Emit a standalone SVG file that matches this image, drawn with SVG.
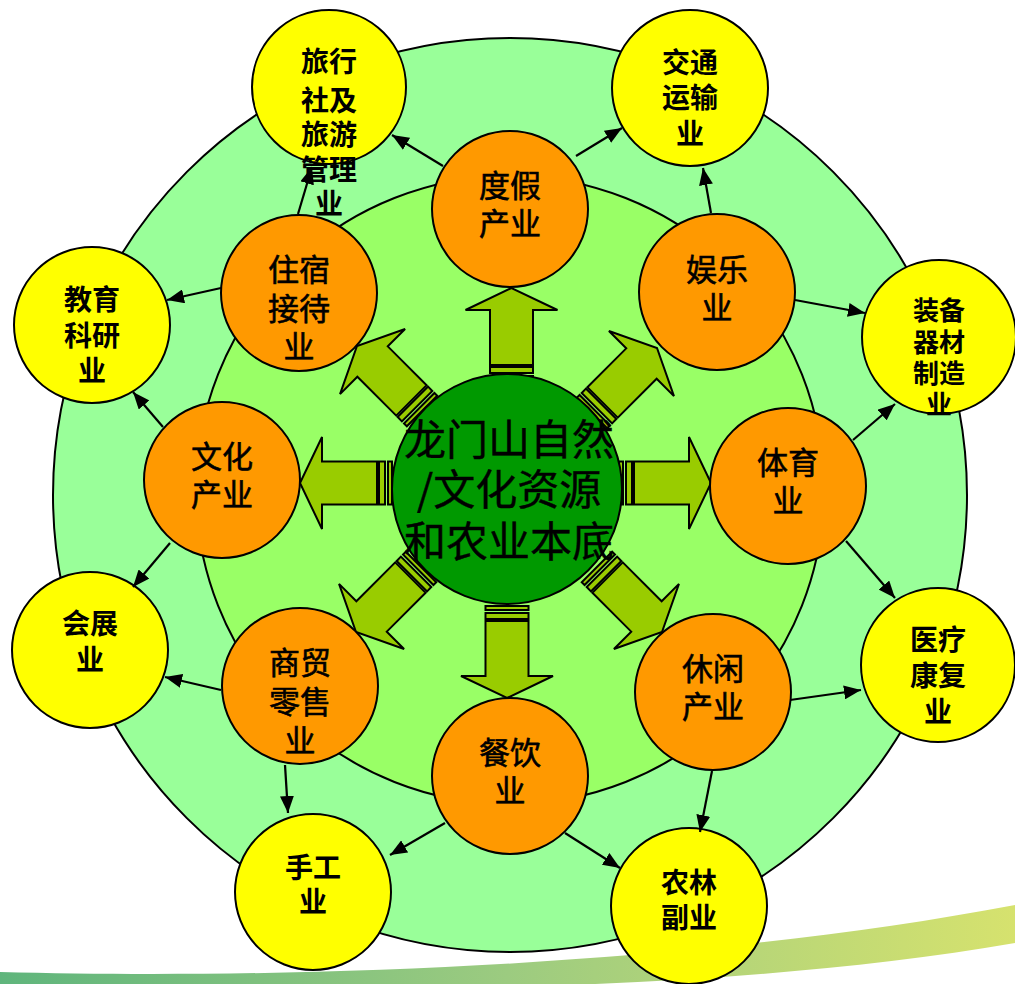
<svg xmlns="http://www.w3.org/2000/svg" width="1015" height="984" viewBox="0 0 1015 984">
<defs>
<style>
.ring{stroke:#000;stroke-width:2}
.org{fill:#FF9900;stroke:#000;stroke-width:2}
.yel{fill:#FFFF00;stroke:#000;stroke-width:2}
.ba{fill:#99CC00;stroke:#000;stroke-width:2}
.t{font-family:"Noto Sans CJK SC","Noto Sans",sans-serif;fill:#000;text-anchor:middle}
.to{font-size:31px;stroke:#000;stroke-width:0.6}
.ty{font-size:28px;font-weight:bold}
.tc{font-size:42px;stroke:#000;stroke-width:0.4}
.con line{stroke:#000;stroke-width:2.2;marker-end:url(#ah)}
</style>
<linearGradient id="band" x1="0" y1="0" x2="1" y2="0">
<stop offset="0" stop-color="#5fb57c"/>
<stop offset="0.5" stop-color="#9ccb80"/>
<stop offset="1" stop-color="#d6e26e"/>
</linearGradient>
<marker id="ah" markerUnits="userSpaceOnUse" markerWidth="17" markerHeight="14" refX="17" refY="7" orient="auto">
<path d="M0,0 L17,7 L0,14 Z" fill="#000"/>
</marker>
<g id="barrow">
<rect class="ba" x="-92" y="-21.5" width="4" height="43"/>
<rect class="ba" x="-85" y="-21.5" width="6" height="43"/>
<path class="ba" d="M-77,-21.5 L-22,-21.5 L-22,-46 L0,0 L-22,46 L-22,21.5 L-77,21.5 Z"/>
</g>
</defs>
<rect width="1015" height="984" fill="#fff"/>
<path d="M0,972 C300,980 700,965 1015,905 L1015,943 C700,998 300,990 0,992 Z" fill="url(#band)"/>
<g id="rings">
<circle class="ring" cx="510" cy="495" r="457" fill="#99FF99"/>
<circle class="ring" cx="510" cy="490" r="314" fill="#99FF66"/>
</g>
<g id="block-arrows">
<use href="#barrow" transform="translate(511.5,288) rotate(-90)"/>
<use href="#barrow" transform="translate(657,348) rotate(-45)"/>
<use href="#barrow" transform="translate(711,483)"/>
<use href="#barrow" transform="translate(662,632) rotate(45)"/>
<use href="#barrow" transform="translate(507,698) rotate(90)"/>
<use href="#barrow" transform="translate(356,632) rotate(135)"/>
<use href="#barrow" transform="translate(300,483) rotate(180)"/>
<use href="#barrow" transform="translate(357,346) rotate(-135)"/>
</g>
<g id="core">
<circle cx="507" cy="489" r="115" fill="#009900" stroke="#000" stroke-width="2"/>
<text class="t tc"><tspan x="509" y="455">龙门山自然</tspan><tspan x="509" y="505">/文化资源</tspan><tspan x="509" y="557">和农业本底</tspan></text>
</g>
<g id="n-dujia"><circle class="org" cx="510" cy="209" r="78"/><text class="t to"><tspan x="510" y="197">度假</tspan><tspan x="510" y="235">产业</tspan></text></g>
<g id="n-yule"><circle class="org" cx="717" cy="292" r="78"/><text class="t to"><tspan x="717" y="281">娱乐</tspan><tspan x="717" y="319">业</tspan></text></g>
<g id="n-tiyu"><circle class="org" cx="788" cy="486" r="78"/><text class="t to"><tspan x="788" y="474">体育</tspan><tspan x="788" y="512">业</tspan></text></g>
<g id="n-xiuxian"><circle class="org" cx="713" cy="692" r="78"/><text class="t to"><tspan x="713" y="680">休闲</tspan><tspan x="713" y="718">产业</tspan></text></g>
<g id="n-canyin"><circle class="org" cx="510" cy="776" r="78"/><text class="t to"><tspan x="510" y="764">餐饮</tspan><tspan x="510" y="802">业</tspan></text></g>
<g id="n-shangmao"><circle class="org" cx="300" cy="686" r="78"/><text class="t to"><tspan x="300" y="674">商贸</tspan><tspan x="300" y="713">零售</tspan><tspan x="300" y="752">业</tspan></text></g>
<g id="n-wenhua"><circle class="org" cx="222" cy="480" r="78"/><text class="t to"><tspan x="222" y="468">文化</tspan><tspan x="222" y="506">产业</tspan></text></g>
<g id="n-zhusu"><circle class="org" cx="299" cy="293" r="78"/><text class="t to"><tspan x="299" y="281">住宿</tspan><tspan x="299" y="320">接待</tspan><tspan x="299" y="358">业</tspan></text></g>
<g id="n-lvxing"><circle class="yel" cx="329" cy="87" r="77"/><text class="t ty"><tspan x="329" y="72">旅行</tspan><tspan x="329" y="111">社及</tspan><tspan x="329" y="145">旅游</tspan><tspan x="329" y="180">管理</tspan><tspan x="329" y="214">业</tspan></text></g>
<g id="n-jiaotong"><circle class="yel" cx="690" cy="88" r="78"/><text class="t ty"><tspan x="690" y="73">交通</tspan><tspan x="690" y="108">运输</tspan><tspan x="690" y="144">业</tspan></text></g>
<g id="n-zhuangbei"><circle class="yel" cx="939" cy="337" r="77"/><text class="t ty" style="font-size:26px"><tspan x="939" y="320">装备</tspan><tspan x="939" y="352">器材</tspan><tspan x="939" y="383">制造</tspan><tspan x="939" y="414">业</tspan></text></g>
<g id="n-yiliao"><circle class="yel" cx="938" cy="665" r="77"/><text class="t ty"><tspan x="938" y="650">医疗</tspan><tspan x="938" y="686">康复</tspan><tspan x="938" y="722">业</tspan></text></g>
<g id="n-nonglin"><circle class="yel" cx="689" cy="906" r="78"/><text class="t ty"><tspan x="689" y="893">农林</tspan><tspan x="689" y="928">副业</tspan></text></g>
<g id="n-shougong"><circle class="yel" cx="313" cy="892" r="78"/><text class="t ty"><tspan x="313" y="878">手工</tspan><tspan x="313" y="912">业</tspan></text></g>
<g id="n-huizhan"><circle class="yel" cx="90" cy="650" r="78"/><text class="t ty"><tspan x="90" y="634">会展</tspan><tspan x="90" y="670">业</tspan></text></g>
<g id="n-jiaoyu"><circle class="yel" cx="92" cy="325" r="78"/><text class="t ty"><tspan x="92" y="310">教育</tspan><tspan x="92" y="346">科研</tspan><tspan x="92" y="381">业</tspan></text></g>
<g id="connectors" class="con">
<line x1="443" y1="166" x2="392" y2="135"/>
<line x1="576" y1="156" x2="622" y2="128"/>
<line x1="298" y1="214" x2="312" y2="167"/>
<line x1="221" y1="288" x2="167" y2="300"/>
<line x1="163" y1="427" x2="133" y2="392"/>
<line x1="170" y1="543" x2="133" y2="587"/>
<line x1="221" y1="690" x2="165" y2="677"/>
<line x1="285" y1="765" x2="288" y2="813"/>
<line x1="445" y1="823" x2="390" y2="855"/>
<line x1="565" y1="833" x2="620" y2="868"/>
<line x1="712" y1="771" x2="700" y2="832"/>
<line x1="790" y1="700" x2="861" y2="690"/>
<line x1="846" y1="541" x2="895" y2="598"/>
<line x1="853" y1="440" x2="895" y2="404"/>
<line x1="795" y1="300" x2="865" y2="313"/>
<line x1="711" y1="213" x2="703" y2="168"/>
</g>
</svg>
